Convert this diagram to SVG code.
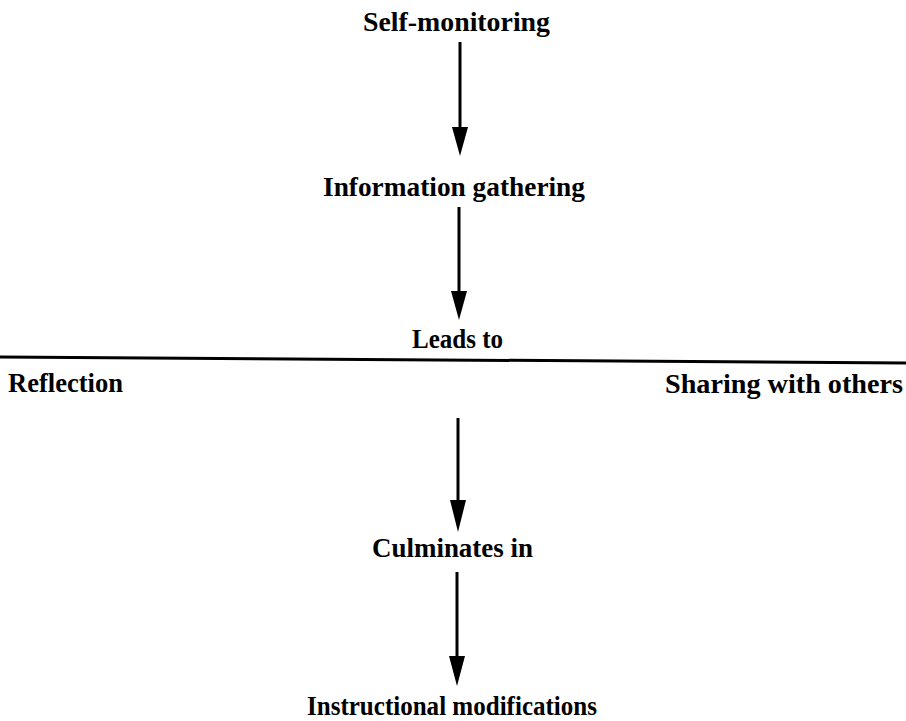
<svg xmlns="http://www.w3.org/2000/svg" width="906" height="721" viewBox="0 0 906 721">
<style>
text{font-family:"Liberation Serif","Times New Roman",serif;font-weight:bold;font-size:27px;fill:#000}
.ln{stroke:#000;stroke-width:3;fill:none}
.hd{fill:#000}
</style>
<rect width="906" height="721" fill="#fff"/>
<g id="connectors">
<line class="ln" x1="460" y1="42" x2="460" y2="132"/>
<path class="hd" d="M452,127 L468,127 L460,156 Z"/>
<line class="ln" x1="459" y1="207" x2="459" y2="296"/>
<path class="hd" d="M451,291 L467,291 L459,320 Z"/>
<line x1="0" y1="357" x2="906" y2="363" stroke="#000" stroke-width="3"/>
<line class="ln" x1="458" y1="418" x2="458" y2="505"/>
<path class="hd" d="M450,500 L466,500 L458,532 Z"/>
<line class="ln" x1="457" y1="572" x2="457" y2="661"/>
<path class="hd" d="M449,656 L465,656 L457,686 Z"/>
</g>
<g id="self-monitoring"><text x="363" y="31" textLength="187" lengthAdjust="spacingAndGlyphs">Self-monitoring</text></g>
<g id="information-gathering"><text x="323" y="196" textLength="262" lengthAdjust="spacingAndGlyphs">Information gathering</text></g>
<g id="leads-to"><text x="412" y="348" textLength="91" lengthAdjust="spacingAndGlyphs">Leads to</text></g>
<g id="reflection"><text x="8" y="392" textLength="115" lengthAdjust="spacingAndGlyphs">Reflection</text></g>
<g id="sharing"><text x="665" y="393" textLength="238" lengthAdjust="spacingAndGlyphs">Sharing with others</text></g>
<g id="culminates-in"><text x="372" y="557" textLength="161" lengthAdjust="spacingAndGlyphs">Culminates in</text></g>
<g id="instructional-modifications"><text x="307" y="715" textLength="290" lengthAdjust="spacingAndGlyphs">Instructional modifications</text></g>
</svg>
